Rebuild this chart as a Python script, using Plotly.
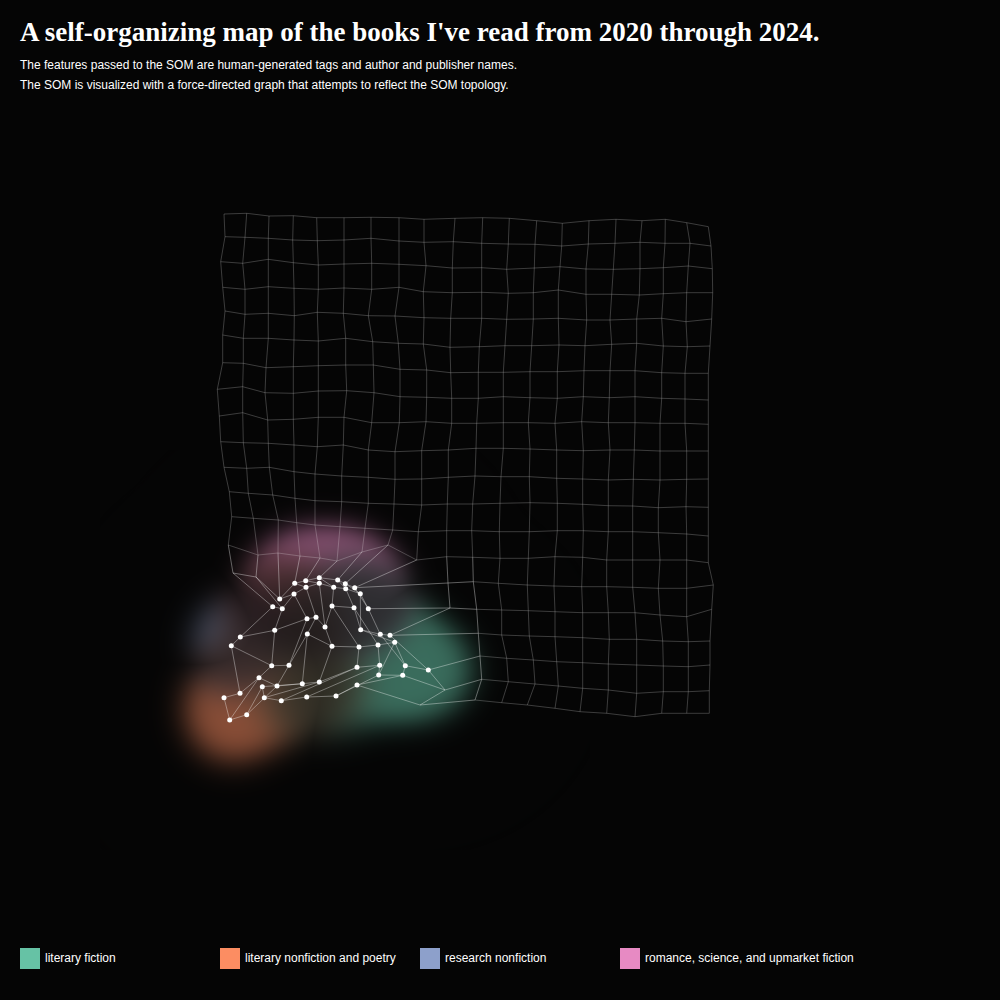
import numpy as np
import plotly.graph_objects as go

TITLE = "A self-organizing map of the books I've read from 2020 through 2024."
SUBTITLES = [
    "The features passed to the SOM are human-generated tags and author and publisher names.",
    "The SOM is visualized with a force-directed graph that attempts to reflect the SOM topology.",
]

CATEGORIES = ["literary fiction", "literary nonfiction and poetry",
              "research nonfiction", "romance, science, and upmarket fiction"]
CAT_CODES = ["F", "L", "S", "R"]
COLORS = ["#66c2a5", "#fc8d62", "#8da0cb", "#e78ac3"]

# force-directed positions of the 20 x 20 SOM nodes (row by row)
NODE_X = [
    [224, 246.7, 269, 293.3, 316.7, 344, 371, 399, 424, 455, 482.7, 509.3, 536.7, 562.3, 589, 616, 642, 665.3, 686.7, 708.3],
    [225, 245, 268.3, 292.7, 317.3, 344, 371, 399, 424, 453.3, 481.7, 508.3, 535, 561.7, 588.3, 615, 640, 665, 690, 711],
    [220.7, 242.7, 268.3, 293.3, 318.3, 344, 371.7, 399, 426, 452.3, 481.7, 506.7, 534.3, 560, 586, 613.3, 640, 663.3, 688.3, 712.3],
    [222.7, 245, 268.3, 294, 318.3, 344, 371.7, 399, 423.3, 452.3, 481.7, 508.3, 533.3, 558.3, 586, 611.7, 639.3, 663.3, 686.7, 712.7],
    [225, 245, 268.3, 294.3, 317.3, 343.3, 368.3, 395, 424, 450.7, 481.7, 506.7, 533.3, 558.3, 586.7, 610, 636.7, 661.7, 686, 711.7],
    [222.7, 243.3, 268.3, 294, 318.3, 345.7, 372.7, 398.3, 423.3, 450, 479.3, 505, 531.7, 559, 585, 611.7, 636.7, 663.3, 687.3, 710],
    [222.7, 243.3, 266, 293.3, 318.3, 345.7, 373.3, 400, 426.7, 450.7, 478.3, 503.3, 530, 557.3, 584, 610, 635, 661.7, 685, 708.3],
    [217.3, 242.7, 265, 293.3, 318.3, 346.7, 374, 400, 426.7, 451.7, 478.3, 503.3, 530, 557.3, 583.3, 609.3, 635, 661.7, 685, 708.3],
    [219.3, 242.7, 267.7, 293.3, 318.3, 344, 371.7, 399.3, 426, 451.7, 476.7, 503.3, 528.3, 555, 581.7, 608.3, 635, 660, 685, 708.3],
    [220.7, 243.3, 268.3, 294, 317.3, 343.3, 368.3, 395, 421.7, 448.3, 476, 503.3, 530, 556.7, 583.3, 610, 634.3, 660, 686.7, 708.3],
    [224, 246.7, 269.3, 294, 315, 341.7, 368.3, 395, 421.7, 448.3, 475, 501, 529.3, 556.7, 582.7, 608.3, 633.3, 660, 686.7, 708.3],
    [229.3, 248.3, 272.7, 295, 315, 341.7, 368.3, 394, 421.7, 447.3, 472.7, 500, 530, 557.3, 582.7, 608.3, 632.7, 658.3, 686, 708.3],
    [231.7, 253.3, 278.3, 296.7, 315, 340, 365, 392.7, 418.3, 446.7, 471.7, 499.3, 529.3, 557.3, 583.3, 608.3, 632.7, 658.3, 686.7, 708.3],
    [228.3, 258, 278, 300, 320, 337, 362, 388, 416.7, 446.7, 472.7, 500, 528.3, 555, 582.7, 606.7, 632.7, 660, 686.7, 708.3],
    [233, 256, 279.7, 294.7, 305.7, 319.3, 337.7, 345.3, 354.7, 448, 473.3, 498.3, 527.3, 554, 581.7, 606.7, 632.7, 658.3, 686.7, 713.3],
    [272.7, 282.3, 294, 306, 319.3, 333.7, 345.7, 360.3, 368.3, 450, 476.7, 501.7, 528.3, 555, 582.7, 608.3, 635, 660, 686.7, 711.7],
    [240.3, 274.7, 307, 316, 325, 332, 354, 360.7, 380.3, 390, 478.3, 501.7, 529.3, 555, 582.7, 609.3, 636.7, 662.7, 688.3, 710],
    [231.3, 271.7, 289, 307.3, 332, 359, 378, 394.7, 405.3, 428.3, 480, 506.7, 533.3, 556.7, 582.7, 608.3, 636.7, 663.3, 688.3, 710],
    [240, 259, 277, 302.3, 319.3, 357, 379.7, 378.7, 402.7, 445, 481.7, 508.3, 535, 558.3, 582.7, 608.3, 636.7, 663.3, 688.3, 709.3],
    [224, 229.7, 246.7, 262.3, 264.3, 281.3, 306.7, 336, 357, 420, 475, 501.7, 527.3, 555, 580, 606.7, 635, 661.7, 686.7, 709.3],
]
NODE_Y = [
    [214, 213.3, 216, 215.7, 217.7, 217.7, 217.3, 217.7, 219.3, 218.3, 217.7, 218.3, 220.7, 223.3, 220.7, 219.3, 220.7, 219.3, 222.7, 226.7],
    [236.7, 237.3, 238.3, 240, 240.7, 240, 238.3, 241, 242.3, 241.7, 243.3, 244, 244.3, 246, 244, 243.3, 242.3, 243.3, 243.3, 246],
    [261.7, 263.3, 259.3, 262.7, 265, 264, 263.3, 264.3, 265.7, 268, 267.7, 269.3, 268, 266.7, 269, 269.3, 268.7, 267.7, 266, 268.7],
    [287.3, 289.3, 286.7, 288.3, 289.3, 288, 289.3, 287.3, 291.7, 292.7, 292.3, 293.3, 292.7, 290, 294.3, 294.3, 295, 293.7, 292.7, 292.7],
    [311, 314.3, 313.3, 315.7, 312.3, 313.3, 315.7, 316, 317.7, 318.3, 318.3, 319.3, 319, 318.3, 320, 320, 319, 318.3, 321.7, 319],
    [335, 338.3, 338.3, 340, 341, 338.3, 341.7, 343.3, 344, 347.3, 346.7, 345.7, 345.7, 345, 345.7, 344.3, 343.3, 346, 346.7, 346],
    [362.7, 363.3, 367.7, 366.7, 365.7, 365, 365, 369.3, 370, 372.7, 372.3, 372.3, 371.7, 371.7, 370.7, 370.7, 370.7, 372.7, 373.3, 373.3],
    [389.3, 386.7, 392.7, 393.3, 391, 390.7, 392.7, 396.7, 397.3, 398.3, 398.3, 396.7, 397.7, 398.3, 396.7, 397.7, 396.7, 398.3, 399, 400],
    [416, 412.7, 420, 419.3, 417.3, 417.3, 422.7, 422.7, 421.7, 423.3, 423.3, 422.7, 422.7, 423.3, 421.7, 422.7, 422.7, 423.3, 423.3, 424.3],
    [441.7, 442.7, 443.3, 445, 446.7, 445, 450, 451.7, 450.7, 450, 448.3, 448.3, 449, 450, 450.7, 450, 450, 451, 451, 451],
    [467.3, 468.3, 467.3, 471.7, 474, 476, 477.3, 479.3, 479, 477.3, 476, 476.7, 476.7, 478.3, 479, 480, 479.3, 480, 479.3, 479],
    [491.7, 493.3, 495, 498.3, 500.7, 501.7, 503.3, 504, 505, 504, 504, 503.3, 502.7, 503.3, 504.3, 505.7, 506, 507.7, 506.7, 507.3],
    [516.7, 518.3, 520, 522.7, 525, 526.7, 528.3, 530, 531.7, 530.7, 530.7, 531.7, 531.7, 530.7, 530.7, 531.7, 531.7, 532.7, 534, 536],
    [545, 555, 553, 556, 558, 561, 552, 545, 560, 556.7, 557.3, 558.3, 558.3, 556.7, 557.3, 560, 560, 560, 560, 562.7],
    [573, 577, 599, 583.3, 580.7, 577.7, 580, 583.7, 587.7, 583, 581.7, 583.3, 585, 586, 586.7, 586.7, 587.3, 588.3, 588.3, 585],
    [606.7, 608.7, 594, 587.3, 583.3, 587.3, 588.7, 593.7, 608.7, 608, 609.3, 610, 610.7, 611.7, 612.7, 612.7, 612.7, 615, 616.7, 609.3],
    [637, 630.3, 618.7, 617.3, 627, 606, 607.7, 629.7, 634.3, 635.3, 633.3, 635, 636, 636.7, 637.7, 639.3, 639.3, 641, 641.7, 641],
    [645.7, 665.7, 665.3, 634, 646.3, 647, 645, 642.3, 665.7, 670, 656, 658.3, 660, 661.7, 662.7, 664, 665, 666, 666.7, 665],
    [693.3, 677.7, 686, 683.7, 682, 667.3, 665.3, 675, 675.3, 690, 679.3, 681.7, 684, 686, 688.3, 690, 693.3, 691.7, 691.7, 690.7],
    [697.7, 720, 714.7, 686.7, 697.7, 700.7, 697, 696, 685, 705, 700, 702.7, 705, 708.3, 711.7, 713.3, 716.7, 713.3, 713.3, 713.3],
]

# dominant category of the books mapped to SOM nodes (rows 14-19, columns 0-9); '-' = empty node
BOOK_FIRST_ROW = 14
BOOK_CATS = [
    "--RRRRRRR-",
    "LLRRRRRRF-",
    "SLLRFRFFFF",
    "SLLFFFFFFF",
    "LLLLLFFFF-",
    "LLLLLLFFF-",
]
# number of books mapped to each node (same layout)
BOOK_COUNTS = [
    [0, 0, 1, 2, 2, 2, 2, 2, 2, 0],
    [1, 1, 1, 1, 1, 1, 2, 2, 1, 0],
    [2, 1, 1, 1, 1, 1, 1, 1, 1, 1],
    [1, 1, 1, 1, 1, 1, 1, 1, 2, 3],
    [1, 1, 1, 1, 1, 1, 1, 1, 2, 0],
    [1, 2, 1, 1, 1, 1, 1, 1, 1, 0],
]

BG = "#050505"
N_ROWS, N_COLS = len(NODE_X), len(NODE_X[0])

# ---- edges of the SOM lattice ----
def in_cluster(r, c):
    return r >= BOOK_FIRST_ROW - 1 and c <= len(BOOK_CATS[0])

edges = {"dim": ([], []), "bright": ([], [])}
for r in range(N_ROWS):
    for c in range(N_COLS):
        for (r2, c2) in ((r, c + 1), (r + 1, c)):
            if r2 < N_ROWS and c2 < N_COLS:
                key = "bright" if (in_cluster(r, c) and in_cluster(r2, c2) and max(r, r2) >= BOOK_FIRST_ROW) else "dim"
                ex, ey = edges[key]
                ex += [NODE_X[r][c], NODE_X[r2][c2], None]
                ey += [NODE_Y[r][c], NODE_Y[r2][c2], None]

# ---- book nodes ----
book_x, book_y, book_c, book_n = [], [], [], []
for i, row in enumerate(BOOK_CATS):
    r = BOOK_FIRST_ROW + i
    for c, code in enumerate(row):
        if code != "-":
            book_x.append(NODE_X[r][c])
            book_y.append(NODE_Y[r][c])
            book_c.append(code)
            book_n.append(BOOK_COUNTS[i][c])
book_x, book_y = np.array(book_x), np.array(book_y)

# ---- soft glow rendered from the book nodes ----
gx0, gx1, gy0, gy1 = 100, 590, 450, 850
xs = np.arange(gx0, gx1) + 0.5
ys = np.arange(gy0, gy1) + 0.5
XX, YY = np.meshgrid(xs, ys)
sigma = 25.0
alphas = []
for code in CAT_CODES:
    D = np.zeros_like(XX)
    for bx, by, bc, bn in zip(book_x, book_y, book_c, book_n):
        if bc == code:
            D += bn * np.exp(-((XX - bx) ** 2 + (YY - by) ** 2) / (2 * sigma ** 2))
    alphas.append(1 - np.exp(-0.9 * D))
A = np.stack(alphas)
S = A.sum(0) + 1e-9
dom = A.max(0) / S
tot = 1 - np.prod(1 - A, axis=0)
rgb = np.array([[int(h[i:i + 2], 16) for i in (1, 3, 5)] for h in COLORS], dtype=float)
col = np.tensordot(A / S, rgb, axes=(0, 0))
bright = (tot ** 1.2 * dom ** 1.1 * 0.55)[..., None]
bg = np.array([5, 5, 5], dtype=float)
img = (bg * (1 - bright) + col * bright).clip(0, 255).astype(np.uint8)

fig = go.Figure()
fig.add_trace(go.Image(z=img, x0=gx0 + 0.5, y0=gy0 + 0.5, dx=1, dy=1, hoverinfo="skip"))
fig.add_trace(go.Scatter(x=edges["dim"][0], y=edges["dim"][1], mode="lines",
                         line=dict(color="rgba(255,255,255,0.28)", width=0.8),
                         hoverinfo="skip", showlegend=False))
fig.add_trace(go.Scatter(x=edges["bright"][0], y=edges["bright"][1], mode="lines",
                         line=dict(color="rgba(255,255,255,0.45)", width=0.8),
                         hoverinfo="skip", showlegend=False))
fig.add_trace(go.Scatter(x=book_x, y=book_y, mode="markers",
                         marker=dict(color="white", size=5, line=dict(width=0)),
                         showlegend=False))

annotations = [
    dict(text=TITLE, x=18, y=32, xref="x", yref="y", xanchor="left", yanchor="middle", showarrow=False,
         font=dict(family="Liberation Serif", size=27, color="white", weight="bold")),
]
for i, s in enumerate(SUBTITLES):
    annotations.append(dict(text=s, x=18, y=65 + 20 * i, xref="x", yref="y", xanchor="left",
                            yanchor="middle", showarrow=False,
                            font=dict(family="Liberation Sans", size=12, color="white")))
shapes = []
for i, (name, color) in enumerate(zip(CATEGORIES, COLORS)):
    lx = 20 + 200 * i
    shapes.append(dict(type="rect", xref="x", yref="y", x0=lx, x1=lx + 20, y0=948, y1=969,
                       fillcolor=color, line=dict(width=0), layer="above"))
    annotations.append(dict(text=name, x=lx + 23, y=958, xref="x", yref="y", xanchor="left",
                            yanchor="middle", showarrow=False,
                            font=dict(family="Liberation Sans", size=12, color="white")))

fig.update_layout(
    width=1000, height=1000, margin=dict(l=0, r=0, t=0, b=0),
    paper_bgcolor=BG, plot_bgcolor=BG,
    xaxis=dict(range=[0, 1000], visible=False, fixedrange=True),
    yaxis=dict(range=[1000, 0], visible=False, fixedrange=True),
    annotations=annotations, shapes=shapes, showlegend=False,
)
fig.write_html("out.html")
